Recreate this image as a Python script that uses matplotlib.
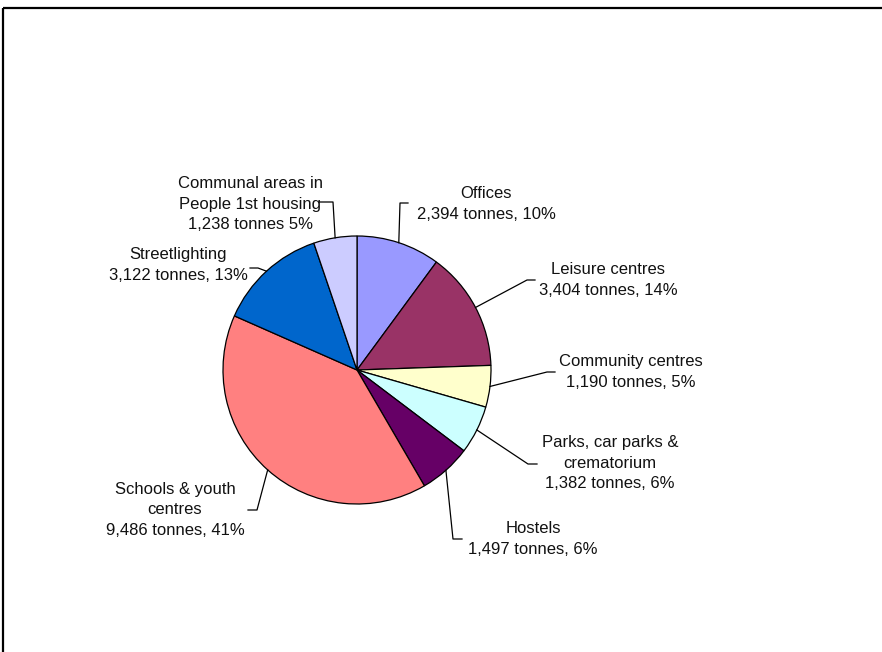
import matplotlib

matplotlib.use("Agg")
import matplotlib.pyplot as plt
import numpy as np

plt.rcParams["font.family"] = ["Liberation Sans", "DejaVu Sans"]

# data: CO2 by building type, clockwise from 12 o'clock
categories = [
    "Offices",
    "Leisure centres",
    "Community centres",
    "Parks, car parks &\ncrematorium",
    "Hostels",
    "Schools & youth\ncentres",
    "Streetlighting",
    "Communal areas in\nPeople 1st housing",
]
tonnes = [2394, 3404, 1190, 1382, 1497, 9486, 3122, 1238]
percent_labels = ["10%", "14%", "5%", "6%", "6%", "41%", "13%", "5%"]
colors = ["#9999FF", "#993366", "#FFFFCC", "#CCFFFF", "#660066", "#FF8080", "#0066CC", "#CCCCFF"]

# layout (pixel coords, y down): text centre, leader elbow, leader end
text_pos = [(486, 204), (608, 280), (631, 372), (610, 463),
            (533, 539), (175, 510), (178, 265), (250, 204)]
elbows = [(400, 203), (527, 280), (547, 372), (528, 464),
          (453, 539), (257, 510), (258, 268), (333, 202)]
ends = [(408, 203), (535, 280), (555, 372), (537, 464),
        (462, 539), (248, 510), (250, 268), (319, 202)]

W, H = 882, 652
fig = plt.figure(figsize=(W / 100, H / 100), dpi=100)
ax = fig.add_axes([0, 0, 1, 1])

cx, cy, r = 357, 370, 134
# y axis is inverted below, so counterclock in data space is clockwise on screen
wedges, _ = ax.pie(tonnes, colors=colors, startangle=-90, counterclock=True,
                   center=(cx, cy), radius=r, frame=True,
                   wedgeprops=dict(edgecolor="black", linewidth=0.9))
ax.set_xlim(0, W)
ax.set_ylim(H, 0)
ax.set_aspect("equal")
ax.axis("off")

# outer frame (cut off at right and bottom)
ax.plot([3, W + 5], [8, 8], color="black", lw=1.6, solid_capstyle="butt")
ax.plot([3, 3], [8, H + 5], color="black", lw=1.6, solid_capstyle="butt")

for w, cat, t, pct, tp, el, en in zip(wedges, categories, tonnes, percent_labels,
                                       text_pos, elbows, ends):
    mid = np.deg2rad((w.theta1 + w.theta2) / 2)
    ex, ey = cx + r * np.cos(mid), cy + r * np.sin(mid)
    ax.plot([ex, el[0], en[0]], [ey, el[1], en[1]], color="black", lw=0.9)
    sep = " " if cat.startswith("Communal") else ", "
    label = f"{cat}\n{t:,} tonnes{sep}{pct}"
    ax.text(tp[0], tp[1], label, ha="center", va="center", fontsize=12,
            linespacing=1.45, multialignment="center", color="#111111")

fig.savefig("out.png", dpi=100)
